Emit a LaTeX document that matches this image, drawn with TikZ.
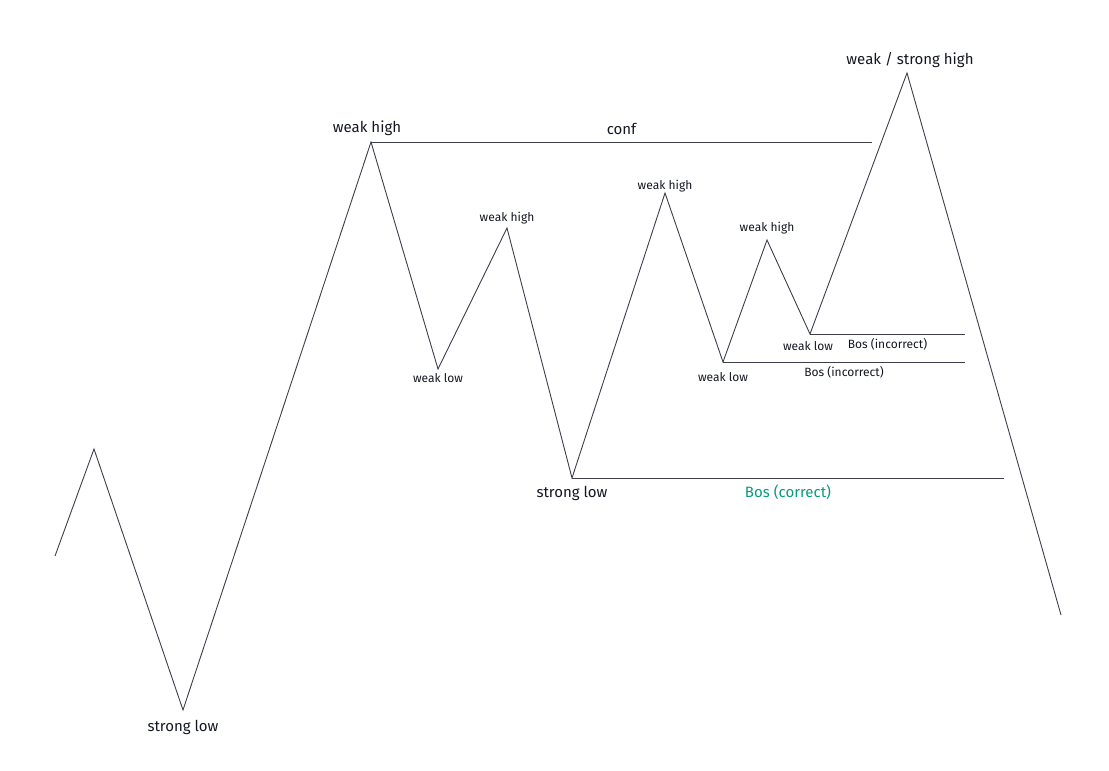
\documentclass[tikz,border=0pt]{standalone}
\usepackage{fontspec}
\setmainfont{Fira Sans}
\usepackage{tikz}
\usetikzlibrary{positioning}
\definecolor{penline}{RGB}{60,63,74}
\definecolor{inktext}{RGB}{19,23,34}
\definecolor{bosgreen}{RGB}{8,153,129}
\tikzstyle{swing} = [line width=0.9pt, draw=penline, line join=miter]
\tikzstyle{bos_line} = [line width=0.9pt, draw=penline]
\tikzstyle{tag_big} = [inner sep=0pt, text=inktext, font=\fontsize{15}{18}\selectfont]
\tikzstyle{tag_small} = [inner sep=0pt, text=inktext, font=\fontsize{12}{14}\selectfont]

\begin{document}
\begin{tikzpicture}[x=1pt, y=-1pt]
        \useasboundingbox (0,0) rectangle (1109,771);

        % swing points
        \coordinate (start) at (55,556);
        \coordinate (high_0) at (94,449);
        \coordinate (low_1) at (183,710);
        \coordinate (high_1) at (371,142);
        \coordinate (low_2) at (438,369);
        \coordinate (high_2) at (507,228);
        \coordinate (low_3) at (572,478);
        \coordinate (high_3) at (665,193);
        \coordinate (low_4) at (723,362);
        \coordinate (high_4) at (767,240);
        \coordinate (low_5) at (810,334);
        \coordinate (high_5) at (907,73);
        \coordinate (finish) at (1061,615);

        \coordinate (conf_end) at (872,142);
        \coordinate (bos_up_end) at (965,334);
        \coordinate (bos_down_end) at (965,362);
        \coordinate (bos_ok_end) at (1004,478);

        \draw [swing] (start) -- (high_0) -- (low_1) -- (high_1) -- (low_2) -- (high_2) -- (low_3) -- (high_3) -- (low_4) -- (high_4) -- (low_5) -- (high_5) -- (finish);

        \draw [bos_line] (high_1) -- node[tag_big, midway, above=6.5pt] {conf} (conf_end);
        \draw [bos_line] (low_5) -- node[tag_small, midway, below=4.3pt] {Bos (incorrect)} (bos_up_end);
        \draw [bos_line] (low_4) -- node[tag_small, midway, below=4.3pt] {Bos (incorrect)} (bos_down_end);
        \draw [bos_line] (low_3) -- node[tag_big, midway, below=6.8pt, text=bosgreen] {Bos (correct)} (bos_ok_end);

        \node[tag_big, below=10pt of low_1] (low_1_tag) {strong low};
        \node[tag_big, above=6pt of high_1, xshift=-4pt] (high_1_tag) {weak high};
        \node[tag_small, below=4.6pt of low_2] (low_2_tag) {weak low};
        \node[tag_small, above=3.6pt of high_2] (high_2_tag) {weak high};
        \node[tag_big, below=8pt of low_3] (low_3_tag) {strong low};
        \node[tag_small, above=0.6pt of high_3] (high_3_tag) {weak high};
        \node[tag_small, below=10.6pt of low_4] (low_4_tag) {weak low};
        \node[tag_small, above=5.6pt of high_4] (high_4_tag) {weak high};
        \node[tag_small, below=7.6pt of low_5, xshift=-2pt] (low_5_tag) {weak low};
        \node[tag_big, above=5pt of high_5, xshift=3pt] (high_5_tag) {weak / strong high};

    \end{tikzpicture}
\end{document}
